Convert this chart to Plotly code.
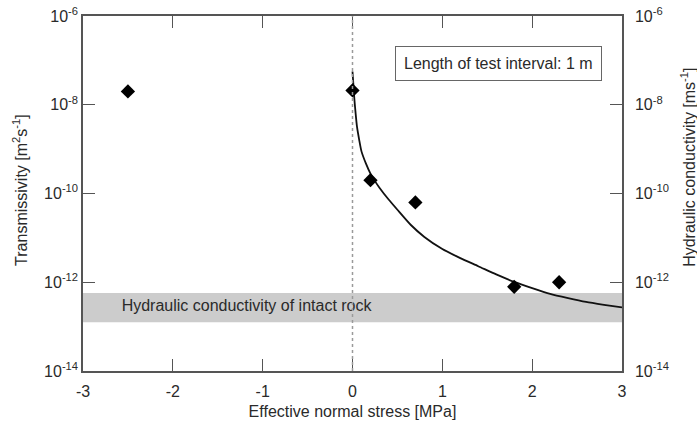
import plotly.graph_objects as go

# Measured points (effective normal stress [MPa], transmissivity [m2/s])
stress = [-2.5, 0.0, 0.2, 0.7, 1.8, 2.3]
transmissivity = [2.0e-8, 2.1e-8, 2.0e-10, 6.3e-11, 7.9e-13, 1.0e-12]

# Fitted curve
curve_x = [0.0, 0.01, 0.02, 0.035, 0.05, 0.075, 0.1, 0.15, 0.2, 0.25, 0.3, 0.4,
           0.5, 0.65, 0.8, 1.0, 1.2, 1.4, 1.6, 1.8, 2.0, 2.2, 2.4, 2.6, 2.8, 3.0]
curve_y = [5.6e-8, 2.8e-8, 1.4e-8, 6.3e-9, 3.2e-9, 1.6e-9, 8.9e-10, 4.7e-10,
           2.8e-10, 1.9e-10, 1.35e-10, 7.4e-11, 4.3e-11, 1.95e-11, 1.05e-11,
           5.6e-12, 3.5e-12, 2.3e-12, 1.5e-12, 1.02e-12, 7.4e-13, 5.5e-13,
           4.4e-13, 3.6e-13, 3.1e-13, 2.7e-13]

# Intact rock band
band_x = [-3, 3, 3, -3]
band_y = [1.26e-13, 1.26e-13, 5.7e-13, 5.7e-13]
band_label = "Hydraulic conductivity of intact rock"
band_label_x = -2.57
band_label_y = 2.7e-13

box_label = "Length of test interval: 1 m"
box_x = 1.63
box_logy = -7.08

x_title = "Effective normal stress [MPa]"
y_title_left = "Transmissivity [m<sup>2</sup>s<sup>-1</sup>]"
y_title_right = "Hydraulic conductivity [ms<sup>-1</sup>]"

x_ticks = [-3, -2, -1, 0, 1, 2, 3]
x_tick_text = ["-3", "-2", "-1", "0", "1", "2", "3"]
y_ticks = [1e-6, 1e-8, 1e-10, 1e-12, 1e-14]
y_tick_text = ["10<sup>-6</sup>", "10<sup>-8</sup>", "10<sup>-10</sup>",
               "10<sup>-12</sup>", "10<sup>-14</sup>"]

FONT = "Liberation Sans, Arial, sans-serif"
AXC = "#555555"
TXT = "#2a2a2a"

fig = go.Figure()

fig.add_trace(go.Scatter(
    x=band_x, y=band_y, fill="toself", fillcolor="#cccccc",
    line=dict(width=0), mode="lines", hoverinfo="skip", showlegend=False))

fig.add_trace(go.Scatter(
    x=[band_label_x], y=[band_label_y], mode="text", text=[band_label],
    textposition="middle right", textfont=dict(family=FONT, size=16, color=TXT),
    showlegend=False, hoverinfo="skip"))

fig.add_vline(x=0, line=dict(color="#9a9a9a", width=1.5, dash="dot"))

fig.add_trace(go.Scatter(
    x=curve_x, y=curve_y, mode="lines", line=dict(color="#111111", width=1.8, shape="spline", smoothing=0.6),
    showlegend=False))

fig.add_trace(go.Scatter(
    x=stress, y=transmissivity, mode="markers",
    marker=dict(symbol="diamond", size=11, color="#000000"), showlegend=False))

# invisible trace on the secondary (hydraulic conductivity) axis
fig.add_trace(go.Scatter(
    x=stress, y=transmissivity, yaxis="y2", mode="markers",
    marker=dict(opacity=0), showlegend=False, hoverinfo="skip"))

fig.add_annotation(
    x=box_x, y=box_logy, xref="x", yref="y", text=box_label, showarrow=False,
    font=dict(family=FONT, size=16, color=TXT),
    bordercolor="#666666", borderwidth=1, borderpad=8, bgcolor="white")

# axis titles (both start at the same height, as in the original)
fig.add_annotation(
    x=-0.117, y=0.51, xref="paper", yref="paper", text=y_title_left, textangle=-90,
    xanchor="center", yanchor="middle",
    showarrow=False, font=dict(family=FONT, size=16, color=TXT))
fig.add_annotation(
    x=1.1224, y=0.575, xref="paper", yref="paper", text=y_title_right, textangle=-90,
    xanchor="center", yanchor="middle",
    showarrow=False, font=dict(family=FONT, size=16, color=TXT))

fig.update_layout(
    width=697, height=430,
    margin=dict(l=83, r=75, t=16, b=59),
    plot_bgcolor="white", paper_bgcolor="white",
    font=dict(family=FONT, size=16, color=TXT),
    xaxis=dict(
        range=[-3, 3], tickvals=x_ticks, ticktext=x_tick_text, ticks="inside", ticklen=12, tickwidth=1,
        tickcolor=AXC, showline=True, linecolor=AXC, linewidth=1.5, mirror="ticks",
        showgrid=False, zeroline=False, ticklabelstandoff=5, automargin=False,
        title=dict(text=x_title, font=dict(size=16), standoff=7),
        tickfont=dict(size=16)),
    yaxis=dict(
        type="log", range=[-14, -6], tickvals=y_ticks, ticktext=y_tick_text,
        ticks="inside", ticklen=12, tickwidth=1, tickcolor=AXC, automargin=False,
        showline=True, linecolor=AXC, linewidth=1.5, showgrid=False, zeroline=False,
        tickfont=dict(size=16)),
    yaxis2=dict(
        type="log", range=[-14, -6], tickvals=y_ticks, ticktext=y_tick_text,
        overlaying="y", side="right", ticks="inside", ticklen=12, tickwidth=1,
        tickcolor=AXC, showline=True, linecolor=AXC, linewidth=1.5, automargin=False,
        showgrid=False, zeroline=False, ticklabelstandoff=8,
        tickfont=dict(size=16)),
)

fig.write_html("out.html")
